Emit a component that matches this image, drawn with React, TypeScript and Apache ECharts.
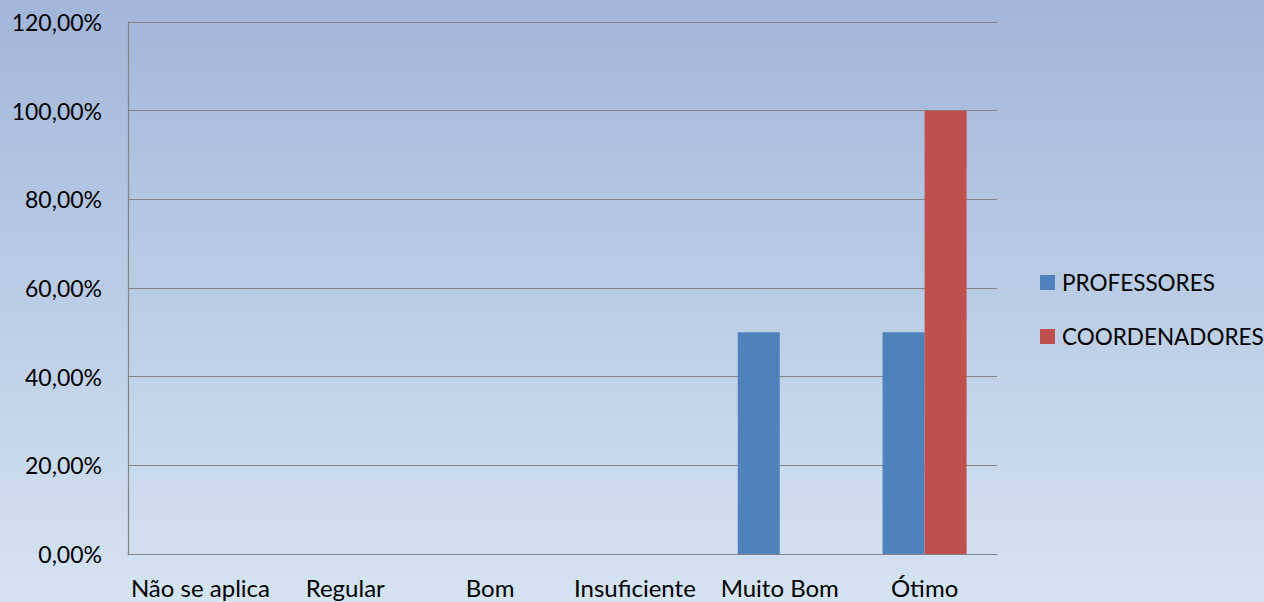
import React, { useEffect, useRef } from "react";
import * as echarts from "echarts";

const categories = ["Não se aplica", "Regular", "Bom", "Insuficiente", "Muito Bom", "Ótimo"];
const professores = [0, 0, 0, 0, 50, 50];
const coordenadores = [0, 0, 0, 0, 0, 100];
const seriesNames = ["PROFESSORES", "COORDENADORES"];

export default function App() {
  const ref = useRef<HTMLDivElement>(null);
  useEffect(() => {
    const chart = echarts.init(ref.current!, null, { renderer: "svg" });
    const font = "Lato, 'Open Sans', sans-serif";
    chart.setOption({
      animation: false,
      backgroundColor: new echarts.graphic.LinearGradient(0, 0, 0, 1, [
        { offset: 0, color: "#a1b6d9" },
        { offset: 1, color: "#d5e4f2" },
      ]),
      textStyle: { fontFamily: font },
      grid: { left: 128, right: 267, top: 22, bottom: 48, containLabel: false },
      legend: {
        orient: "vertical",
        left: 1035,
        top: 266,
        itemWidth: 15,
        itemHeight: 15,
        itemGap: 31,
        icon: "rect",
        data: seriesNames,
        textStyle: { fontFamily: font, fontSize: 22.5, lineHeight: 22, color: "#000", padding: [0, 0, 0, 2] },
      },
      xAxis: {
        type: "category",
        data: categories,
        axisTick: { show: false },
        axisLine: { show: true, lineStyle: { color: "#848484", width: 1.2 } },
        axisLabel: { color: "#000", fontSize: 24, lineHeight: 24, margin: 21, fontFamily: font, interval: 0 },
      },
      yAxis: {
        type: "value",
        min: 0,
        max: 120,
        interval: 20,
        axisLine: { show: true, lineStyle: { color: "#848484", width: 1.2 } },
        axisTick: { show: false },
        splitLine: { show: true, lineStyle: { color: "#848484", width: 1.2 } },
        axisLabel: {
          color: "#000",
          fontSize: 23,
          margin: 26,
          fontFamily: font,
          formatter: (v: number) => v.toFixed(2).replace(".", ",") + "%",
        },
      },
      series: [
        {
          name: seriesNames[0],
          type: "bar",
          data: professores,
          barWidth: 42,
          barGap: "0%",
          itemStyle: { color: "#4f81bd" },
        },
        {
          name: seriesNames[1],
          type: "bar",
          data: coordenadores,
          barWidth: 42,
          barGap: "0%",
          itemStyle: { color: "#c0504d" },
        },
      ],
    });
    return () => chart.dispose();
  }, []);
  return (
    <div
      ref={ref}
      style={{ position: "fixed", left: 0, top: 0, width: 1264, height: 602 }}
    />
  );
}
